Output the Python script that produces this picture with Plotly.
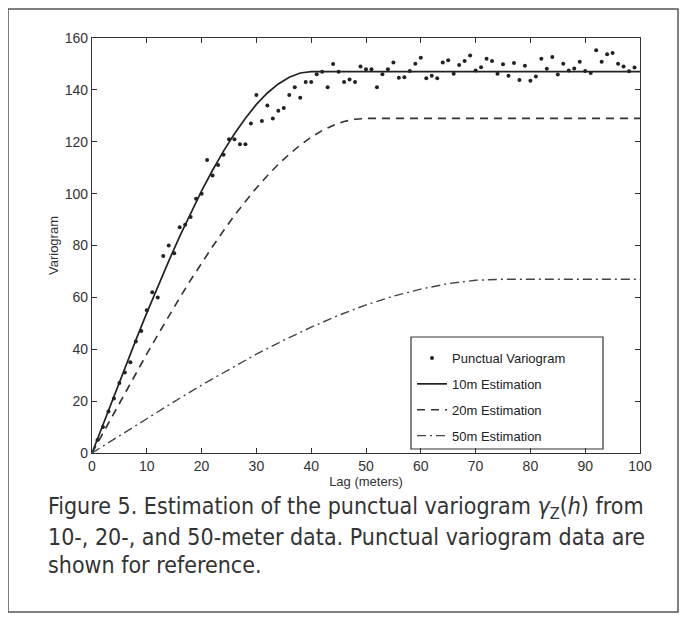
import plotly.graph_objects as go

# ---- data ----
lag_points = list(range(1, 100))
punctual = [5, 10, 16, 21, 27, 31, 35, 43, 47, 55,
            62, 60, 76, 80, 77, 87, 88, 91, 98, 100,
            113, 107, 111, 115, 121, 121, 119, 119, 127, 138,
            128, 134, 129, 132, 133, 138, 141, 137, 143, 143,
            146, 147, 141, 150, 147, 143, 144, 143, 149, 148,
            148, 141, 146, 148, 150.6, 144.7, 144.9, 147.3, 150.1, 152.4,
            144.5, 145.4, 144.5, 150.6, 151.4, 146.2, 149.6, 151.1, 153.3, 147.5,
            148.7, 152.0, 151.1, 146.2, 149.9, 145.4, 150.4, 143.8, 149.3, 143.5,
            145.2, 152.0, 148.1, 152.7, 145.9, 150.1, 147.5, 148.2, 150.8, 147.3,
            146.5, 155.3, 150.8, 153.7, 154.2, 150.1, 149.0, 147.2, 148.6]

lag_10m = [0, 2, 4, 6, 8, 10, 12, 14, 16, 18, 20, 22, 24, 26, 28, 30, 32, 34, 36, 38, 40, 100]
est_10m = [0, 11.0, 22.0, 32.8, 43.5, 54.0, 64.2, 74.0, 83.5, 92.5, 101.1, 109.0, 116.4,
           123.1, 129.1, 134.4, 138.8, 142.3, 144.9, 146.5, 147, 147]

lag_20m = [0, 2, 4, 6, 8, 10, 12, 14, 16, 18, 20, 22, 24, 26, 28, 30, 32, 34, 36, 38, 40,
           42, 44, 46, 48, 50, 100]
est_20m = [0, 7.7, 15.4, 23.1, 30.7, 38.2, 45.5, 52.8, 59.8, 66.7, 73.3, 79.6, 85.7, 91.6,
           97.0, 102.2, 106.9, 111.3, 115.2, 118.7, 121.8, 124.3, 126.3, 127.8, 128.7, 129, 129]

lag_50m = [0, 5, 10, 15, 20, 25, 30, 35, 40, 45, 50, 55, 60, 65, 70, 75, 100]
est_50m = [0, 6.7, 13.3, 19.8, 26.2, 32.3, 38.1, 43.5, 48.5, 53.1, 57.1, 60.5, 63.2,
           65.3, 66.6, 67, 67]

x_ticks = [0, 10, 20, 30, 40, 50, 60, 70, 80, 90, 100]
y_ticks = [0, 20, 40, 60, 80, 100, 120, 140, 160]

caption_lines = [
    "Figure 5. Estimation of the punctual variogram <i>γ</i><sub>Z</sub>(<i>h</i>) from",
    "10-, 20-, and 50-meter data. Punctual variogram data are",
    "shown for reference.",
]

# ---- layout geometry (page pixels; the page body adds an 8px offset) ----
OFF = 8
W, H = 672, 610
L, R, T, B = 92 - OFF, 640 - OFF, 38 - OFF, 453 - OFF
pw, ph = R - L, B - T


def px(xp):
    return (xp - OFF - L) / pw


def py(yp):
    return (B - (yp - OFF)) / ph


ink = "#222222"
sans = "Liberation Sans, Arial, sans-serif"

fig = go.Figure()
fig.add_trace(go.Scatter(x=lag_points, y=punctual, mode="markers", name="Punctual Variogram",
                         legendgroup="a",
                         marker=dict(size=4, color=ink)))
fig.add_trace(go.Scatter(x=lag_10m, y=est_10m, mode="lines", name="10m Estimation",
                         legendgroup="b",
                         line=dict(color=ink, width=1.7)))
fig.add_trace(go.Scatter(x=lag_20m, y=est_20m, mode="lines", name="20m Estimation",
                         legendgroup="c",
                         line=dict(color="#333333", width=1.6, dash="8px,6px")))
fig.add_trace(go.Scatter(x=lag_50m, y=est_50m, mode="lines", name="50m Estimation",
                         legendgroup="d",
                         line=dict(color="#444444", width=1.4, dash="9px,4px,2px,4px")))

axis_common = dict(showgrid=False, zeroline=False, showline=True, linecolor="#333333",
                   linewidth=1.2, mirror="ticks", ticks="inside", ticklen=5,
                   tickcolor="#333333", tickwidth=1,
                   tickfont=dict(family=sans, size=14, color="#333333"))

fig.update_xaxes(range=[0, 100], tickvals=x_ticks, ticktext=[str(v) for v in x_ticks],
                 title=dict(text="Lag (meters)", standoff=2,
                            font=dict(family=sans, size=13, color="#333333")),
                 **axis_common)
fig.update_yaxes(range=[0, 160], tickvals=y_ticks, ticktext=[str(v) for v in y_ticks],
                 title=dict(text="Variogram", standoff=3,
                            font=dict(family=sans, size=13, color="#333333")),
                 **axis_common)

shapes = [
    # outer figure frame
    dict(type="rect", xref="paper", yref="paper", x0=px(8), x1=px(678), y0=py(612), y1=py(9),
         line=dict(color="#555555", width=1.5), fillcolor="rgba(0,0,0,0)", layer="below"),
    # legend frame
    dict(type="rect", xref="paper", yref="paper", x0=px(411), x1=px(603), y0=py(449), y1=py(337),
         line=dict(color="#333333", width=1.2), fillcolor="white", layer="below"),
]

annotations = []
for i, line in enumerate(caption_lines):
    annotations.append(dict(text=line, xref="paper", yref="paper", x=px(46), y=py(508 + 28.5 * i),
                            xanchor="left", yanchor="middle", showarrow=False, align="left",
                            font=dict(family="DejaVu Sans Condensed, DejaVu Sans, sans-serif",
                                      size=23, color="#333333")))

fig.update_layout(
    width=W, height=H,
    margin=dict(l=L, r=W - R, t=T, b=H - B, pad=0),
    paper_bgcolor="white", plot_bgcolor="white",
    showlegend=True,
    legend=dict(x=px(412), y=py(343), xanchor="left", yanchor="top",
                bgcolor="rgba(0,0,0,0)", borderwidth=0, tracegroupgap=6,
                font=dict(family=sans, size=13, color="#222222")),
    shapes=shapes,
    annotations=annotations,
)

fig.write_html("out.html")
